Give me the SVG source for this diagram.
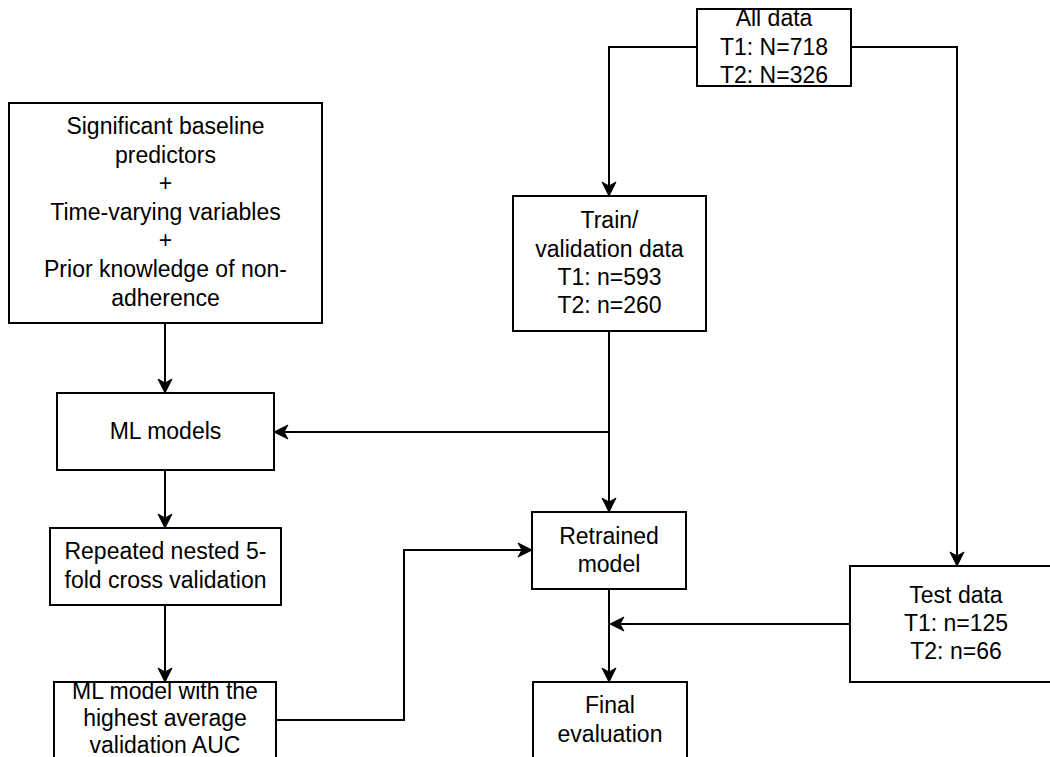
<svg xmlns="http://www.w3.org/2000/svg" width="1050" height="757" viewBox="0 0 1050 757">
  <style>
    .box { fill: #ffffff; stroke: #000000; stroke-width: 2; }
    .lbl { font-family: "Liberation Sans", Arial, sans-serif; font-size: 23px; fill: #000000; text-anchor: middle; }
    .edge { fill: none; stroke: #000000; stroke-width: 2; }
    .arr { marker-end: url(#head); }
  </style>
  <defs>
    <marker id="head" markerUnits="userSpaceOnUse" markerWidth="16" markerHeight="16" refX="15" refY="8" orient="auto">
      <path d="M1,1 L15,8 L1,15 L5,8 Z" fill="#000000" stroke="#000000" stroke-width="1"/>
    </marker>
  </defs>

  <rect width="1050" height="757" fill="#ffffff"/>

  <!-- connectors -->
  <g id="connectors">
    <path class="edge arr" d="M697,47 H609 V196"/>
    <path class="edge arr" d="M851,47 H957 V566"/>
    <path class="edge arr" d="M165,323 V393"/>
    <path class="edge arr" d="M165,470 V528"/>
    <path class="edge arr" d="M165,605 V682"/>
    <path class="edge arr" d="M609,331 V512"/>
    <path class="edge arr" d="M609,432 H274"/>
    <path class="edge arr" d="M276,720 H404 V550 H532"/>
    <path class="edge arr" d="M609,589 V682"/>
    <path class="edge arr" d="M850,624 H610"/>
  </g>

  <!-- nodes -->
  <g id="all-data">
    <rect class="box" x="697" y="9" width="154" height="77"/>
    <text class="lbl" x="774" y="26">All data</text>
    <text class="lbl" x="774" y="55">T1: N=718</text>
    <text class="lbl" x="774" y="83">T2: N=326</text>
  </g>

  <g id="predictors">
    <rect class="box" x="9" y="103" width="313" height="220"/>
    <text class="lbl" x="165.5" y="134">Significant baseline</text>
    <text class="lbl" x="165.5" y="163">predictors</text>
    <text class="lbl" x="165.5" y="191">+</text>
    <text class="lbl" x="165.5" y="220">Time-varying variables</text>
    <text class="lbl" x="165.5" y="248">+</text>
    <text class="lbl" x="165.5" y="277">Prior knowledge of non-</text>
    <text class="lbl" x="165.5" y="306">adherence</text>
  </g>

  <g id="train-validation">
    <rect class="box" x="513" y="196" width="193" height="135"/>
    <text class="lbl" x="609.5" y="228">Train/</text>
    <text class="lbl" x="609.5" y="257">validation data</text>
    <text class="lbl" x="609.5" y="285">T1: n=593</text>
    <text class="lbl" x="609.5" y="313">T2: n=260</text>
  </g>

  <g id="ml-models">
    <rect class="box" x="57" y="393" width="217" height="77"/>
    <text class="lbl" x="165.5" y="439">ML models</text>
  </g>

  <g id="nested-cv">
    <rect class="box" x="50" y="528" width="231" height="77"/>
    <text class="lbl" x="165.5" y="559">Repeated nested 5-</text>
    <text class="lbl" x="165.5" y="588">fold cross validation</text>
  </g>

  <g id="best-model">
    <rect class="box" x="54" y="682" width="222" height="90"/>
    <text class="lbl" x="165" y="699">ML model with the</text>
    <text class="lbl" x="165" y="726">highest average</text>
    <text class="lbl" x="165" y="753">validation AUC</text>
  </g>

  <g id="retrained">
    <rect class="box" x="532" y="512" width="154" height="77"/>
    <text class="lbl" x="609" y="544">Retrained</text>
    <text class="lbl" x="609" y="572">model</text>
  </g>

  <g id="final-evaluation">
    <rect class="box" x="533" y="682" width="154" height="90"/>
    <text class="lbl" x="610" y="713">Final</text>
    <text class="lbl" x="610" y="742">evaluation</text>
  </g>

  <g id="test-data">
    <rect class="box" x="850" y="566" width="212" height="116"/>
    <text class="lbl" x="956" y="603">Test data</text>
    <text class="lbl" x="956" y="631">T1: n=125</text>
    <text class="lbl" x="956" y="659">T2: n=66</text>
  </g>
</svg>
